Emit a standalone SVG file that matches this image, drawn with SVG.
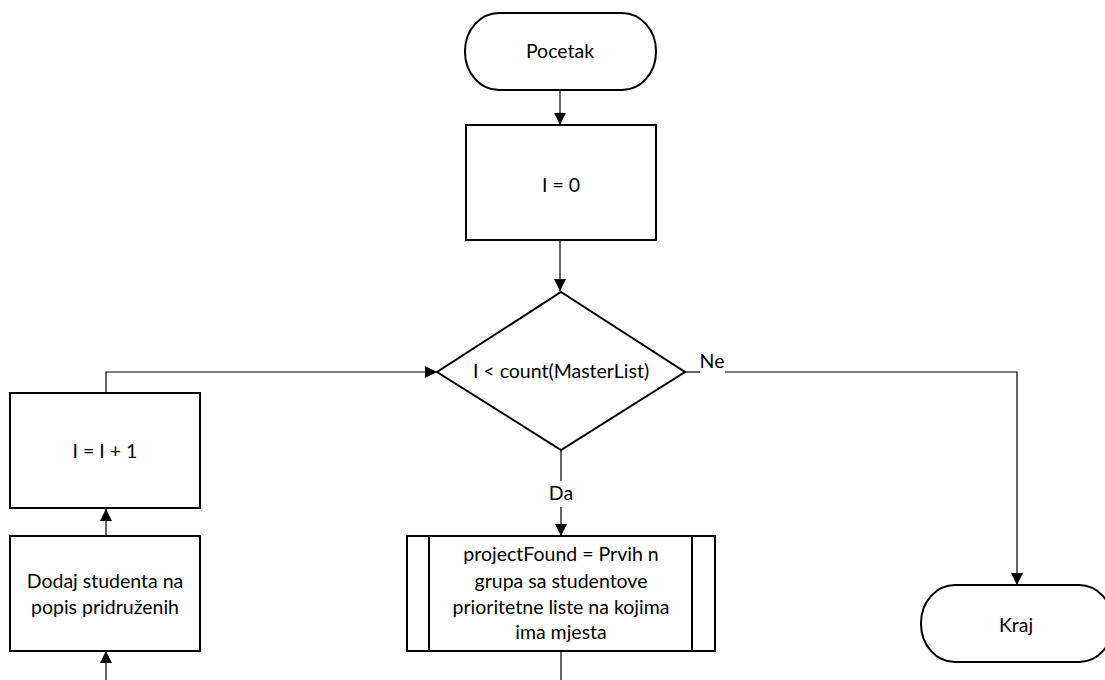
<svg xmlns="http://www.w3.org/2000/svg" width="1105" height="680" viewBox="0 0 1105 680">
<style>
.shape{fill:#fff;stroke:#000;stroke-width:2}
.conn{fill:none;stroke:#000;stroke-width:1.2}
text{font-family:"Lato","Liberation Sans",sans-serif;font-size:19.5px;fill:#000;text-anchor:middle}
</style>
<defs>
<marker id="arr" viewBox="0 0 12 12" refX="12" refY="6" markerWidth="12" markerHeight="12" markerUnits="userSpaceOnUse" orient="auto">
<path d="M0,0 L12,6 L0,12 Z" fill="#000"/>
</marker>
</defs>
<g id="connectors">
<line class="conn" x1="560" y1="90" x2="560" y2="125" marker-end="url(#arr)"/>
<line class="conn" x1="560" y1="240" x2="560" y2="291" marker-end="url(#arr)"/>
<polyline class="conn" points="106,393 106,372 437,372" marker-end="url(#arr)"/>
<line class="conn" x1="106" y1="536" x2="106" y2="509" marker-end="url(#arr)"/>
<line class="conn" x1="106" y1="680" x2="106" y2="651" marker-end="url(#arr)"/>
<line class="conn" x1="561" y1="450" x2="561" y2="481"/>
<line class="conn" x1="561" y1="507" x2="561" y2="536" marker-end="url(#arr)"/>
<line class="conn" x1="561" y1="651" x2="561" y2="680"/>
<line class="conn" x1="685" y1="372" x2="700" y2="372"/>
<polyline class="conn" points="725,372 1017,372 1017,585" marker-end="url(#arr)"/>
<text x="712" y="368">Ne</text>
<text x="561" y="500">Da</text>
</g>
<g id="start">
<rect class="shape" x="465" y="13" width="191" height="77" rx="34" ry="38"/>
<text x="560" y="58">Pocetak</text>
</g>
<g id="init">
<rect class="shape" x="466" y="125" width="190" height="115"/>
<text x="561" y="192">I = 0</text>
</g>
<g id="decision">
<polygon class="shape" points="561,292 685,372 561,450 437,372"/>
<text x="561" y="378">I &lt; count(MasterList)</text>
</g>
<g id="increment">
<rect class="shape" x="10" y="393" width="190" height="115"/>
<text x="105" y="458">I = I + 1</text>
</g>
<g id="add">
<rect class="shape" x="10" y="536" width="190" height="115"/>
<text x="105" y="588">Dodaj studenta na</text>
<text x="105" y="614">popis pridruženih</text>
</g>
<g id="subprocess">
<rect class="shape" x="407" y="536" width="308" height="115"/>
<line class="shape" x1="429" y1="536" x2="429" y2="651"/>
<line class="shape" x1="692" y1="536" x2="692" y2="651"/>
<text x="561" y="561">projectFound = Prvih n</text>
<text x="561" y="588">grupa sa studentove</text>
<text x="561" y="614">prioritetne liste na kojima</text>
<text x="561" y="639">ima mjesta</text>
</g>
<g id="end">
<rect class="shape" x="921" y="585" width="192" height="77" rx="34" ry="38"/>
<text x="1016" y="632">Kraj</text>
</g>
</svg>
